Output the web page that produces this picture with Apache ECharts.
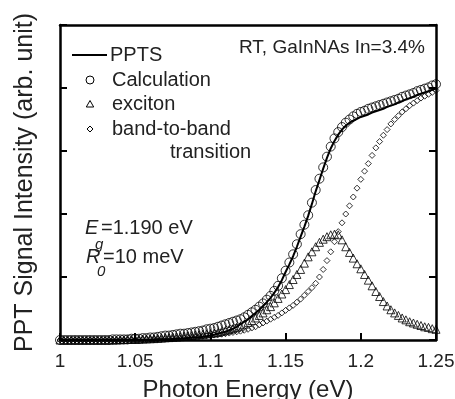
<!DOCTYPE html>
<html><head><meta charset="utf-8">
<script src="https://cdn.jsdelivr.net/npm/echarts@6/dist/echarts.min.js"></script>
<style>html,body{margin:0;padding:0;background:#fff}#c{width:455px;height:399px}</style>
</head><body><div id="c"></div>
<script>
const energy = [1.0000,1.0025,1.0050,1.0075,1.0100,1.0125,1.0150,1.0175,1.0200,1.0225,
1.0250,1.0275,1.0300,1.0325,1.0350,1.0375,1.0400,1.0425,1.0450,1.0475,
1.0500,1.0525,1.0550,1.0575,1.0600,1.0625,1.0650,1.0675,1.0700,1.0725,
1.0750,1.0775,1.0800,1.0825,1.0850,1.0875,1.0900,1.0925,1.0950,1.0975,
1.1000,1.1025,1.1050,1.1075,1.1100,1.1125,1.1150,1.1175,1.1200,1.1225,
1.1250,1.1275,1.1300,1.1325,1.1350,1.1375,1.1400,1.1425,1.1450,1.1475,
1.1500,1.1525,1.1550,1.1575,1.1600,1.1625,1.1650,1.1675,1.1700,1.1725,
1.1750,1.1775,1.1800,1.1825,1.1850,1.1875,1.1900,1.1925,1.1950,1.1975,
1.2000,1.2025,1.2050,1.2075,1.2100,1.2125,1.2150,1.2175,1.2200,1.2225,
1.2250,1.2275,1.2300,1.2325,1.2350,1.2375,1.2400,1.2425,1.2450,1.2475,
1.2500];

const ppts = [0,0,0,0,0,0,0,0,0,0,
0,0,0,0,0,0,0,0,0,0,
0,0,0,0,0,0.005,0.01,0.01,0.01,0.01,
0.015,0.02,0.02,0.025,0.03,0.035,0.04,0.045,0.05,0.06,
0.07,0.085,0.10,0.115,0.13,0.155,0.18,0.21,0.25,0.29,
0.33,0.38,0.43,0.48,0.54,0.60,0.67,0.75,0.84,0.95,
1.08,1.20,1.33,1.48,1.64,1.80,1.97,2.16,2.36,2.54,
2.72,2.89,3.04,3.16,3.26,3.34,3.40,3.45,3.48,3.51,
3.54,3.56,3.58,3.61,3.63,3.65,3.67,3.70,3.72,3.74,
3.77,3.79,3.82,3.84,3.86,3.89,3.91,3.93,3.95,3.97,
3.99];

const calculation = [0,0,0,0,0,0,0,0,0,0,
0,0,0,0,0.01,0.01,0.01,0.01,0.01,0.02,
0.02,0.02,0.03,0.03,0.04,0.04,0.05,0.06,0.07,0.07,
0.08,0.09,0.10,0.10,0.11,0.12,0.13,0.14,0.15,0.17,
0.18,0.19,0.21,0.23,0.25,0.27,0.29,0.31,0.33,0.36,
0.40,0.44,0.48,0.53,0.58,0.64,0.70,0.78,0.86,0.98,
1.10,1.23,1.36,1.52,1.68,1.83,1.98,2.18,2.38,2.56,
2.74,2.91,3.07,3.20,3.30,3.38,3.45,3.50,3.55,3.59,
3.62,3.64,3.67,3.69,3.71,3.73,3.75,3.77,3.79,3.81,
3.83,3.86,3.88,3.90,3.92,3.95,3.97,3.99,4.01,4.04,
4.06];

const exciton = [0,0,0,0,0,0,0,0,0,0,
0,0,0,0,0,0,0.005,0.005,0.01,0.01,
0.01,0.012,0.015,0.017,0.02,0.022,0.025,0.03,0.035,0.038,
0.042,0.047,0.052,0.058,0.064,0.07,0.077,0.083,0.09,0.097,
0.105,0.11,0.12,0.135,0.15,0.165,0.18,0.20,0.22,0.25,
0.28,0.31,0.35,0.39,0.43,0.48,0.53,0.59,0.66,0.73,
0.80,0.88,0.96,1.04,1.12,1.22,1.32,1.40,1.48,1.55,
1.60,1.64,1.67,1.68,1.67,1.59,1.48,1.39,1.30,1.21,
1.13,1.04,0.95,0.86,0.77,0.69,0.61,0.54,0.48,0.43,
0.39,0.35,0.32,0.29,0.27,0.25,0.23,0.21,0.20,0.18,
0.17];

const bandToBand = [0,0,0,0,0,0,0,0,0,0,
0,0,0,0,0,0,0,0,0,0,
0,0.005,0.01,0.01,0.01,0.012,0.015,0.017,0.02,0.022,
0.025,0.028,0.03,0.035,0.04,0.045,0.05,0.055,0.06,0.065,
0.07,0.078,0.085,0.092,0.10,0.11,0.12,0.13,0.14,0.155,
0.17,0.19,0.21,0.24,0.27,0.30,0.33,0.36,0.39,0.43,
0.47,0.51,0.55,0.60,0.65,0.71,0.77,0.83,0.90,1.00,
1.12,1.26,1.40,1.56,1.72,1.86,2.00,2.13,2.27,2.41,
2.55,2.68,2.80,2.93,3.05,3.15,3.25,3.34,3.43,3.50,
3.56,3.62,3.67,3.72,3.76,3.80,3.84,3.87,3.90,3.93,
3.96];

const seriesNames = ['PPTS','Calculation','exciton','band-to-band'];
const xTicks = {min:1, max:1.25, interval:0.05};
const yTicks = {min:0, max:5, interval:1};

const pair = arr => energy.map((e,i)=>[e, arr[i]]);
const FONT = '"Liberation Sans", Arial, Helvetica, sans-serif';
const TXT = '#222';

const chart = echarts.init(document.getElementById('c'));
const axisLineStyle = {color:'#000', width:2.5};
const tickStyle = {color:'#000', width:2};
const hollow = {color:'rgba(0,0,0,0)', borderColor:'#000', borderWidth:1};
const txt = (text, x, y, size, extra) => ({type:'text', x, y, silent:true,
  style:Object.assign({text, align:'left', verticalAlign:'middle', fontSize:size, fontFamily:FONT, fill:TXT}, extra||{})});
const mk = {stroke:'#000', fill:'none', lineWidth:1};

chart.setOption({
  animation:false,
  textStyle:{fontFamily:FONT},
  grid:{left:60, right:19, top:25, bottom:59, outerBoundsMode:'none'},
  xAxis:[{
    type:'value', min:xTicks.min, max:xTicks.max, interval:xTicks.interval,
    name:'Photon Energy (eV)', nameLocation:'middle', nameGap:38,
    nameTextStyle:{fontSize:24, color:TXT, fontFamily:FONT},
    axisLine:{show:true, lineStyle:axisLineStyle},
    axisTick:{show:true, inside:true, length:7, lineStyle:tickStyle},
    axisLabel:{fontSize:19, color:TXT, margin:12, fontFamily:FONT},
    splitLine:{show:false}
  },{
    type:'value', position:'top', min:xTicks.min, max:xTicks.max,
    axisLine:{show:true, onZero:false, lineStyle:axisLineStyle},
    axisTick:{show:false}, axisLabel:{show:false}, splitLine:{show:false}
  }],
  yAxis:[{
    type:'value', min:yTicks.min, max:yTicks.max, interval:yTicks.interval,
    name:'PPT Signal Intensity (arb. unit)', nameLocation:'middle', nameGap:22,
    nameTextStyle:{fontSize:25, color:TXT, fontFamily:FONT},
    axisLine:{show:true, onZero:false, lineStyle:axisLineStyle},
    axisTick:{show:true, inside:true, length:7, lineStyle:tickStyle},
    axisLabel:{show:false}, splitLine:{show:false}
  },{
    type:'value', position:'right', min:yTicks.min, max:yTicks.max, interval:yTicks.interval,
    axisLine:{show:true, onZero:false, lineStyle:axisLineStyle},
    axisTick:{show:true, inside:true, length:7, lineStyle:tickStyle},
    axisLabel:{show:false}, splitLine:{show:false}
  }],
  series:[
    {name:seriesNames[1], type:'scatter', data:pair(calculation), symbol:'circle', symbolSize:9, itemStyle:hollow, z:2},
    {name:seriesNames[2], type:'scatter', data:pair(exciton), symbol:'triangle', symbolSize:8, itemStyle:hollow, z:2},
    {name:seriesNames[3], type:'scatter', data:pair(bandToBand), symbol:'diamond', symbolSize:6, itemStyle:hollow, z:2},
    {name:seriesNames[0], type:'line', data:pair(ppts), symbol:'none', showSymbol:false,
     lineStyle:{color:'#000', width:2}, z:3}
  ],
  graphic:[
    // legend
    {type:'line', silent:true, shape:{x1:72, y1:55, x2:107, y2:55}, style:{stroke:'#000', lineWidth:2}},
    txt(seriesNames[0], 110, 55, 20),
    {type:'circle', silent:true, shape:{cx:90, cy:80, r:4}, style:mk},
    txt(seriesNames[1], 112, 80, 20),
    {type:'polygon', silent:true, shape:{points:[[90,100.5],[93.7,107],[86.3,107]]}, style:mk},
    txt(seriesNames[2], 112, 104, 20),
    {type:'polygon', silent:true, shape:{points:[[90,126],[93,129],[90,132],[87,129]]}, style:mk},
    txt(seriesNames[3], 112, 129, 20),
    txt('transition', 170, 152, 20),
    // annotations
    txt('RT, GaInNAs In=3.4%', 425, 48, 19, {align:'right'}),
    txt('E', 85, 228, 20, {fontStyle:'italic'}),
    txt('g', 95, 245, 15, {fontStyle:'italic'}),
    txt('=1.190 eV', 101, 228, 20),
    txt('R', 86, 257, 20, {fontStyle:'italic'}),
    txt('0', 97, 272, 15, {fontStyle:'italic'}),
    txt('=10 meV', 103, 257, 20)
  ]
});
</script></body></html>
